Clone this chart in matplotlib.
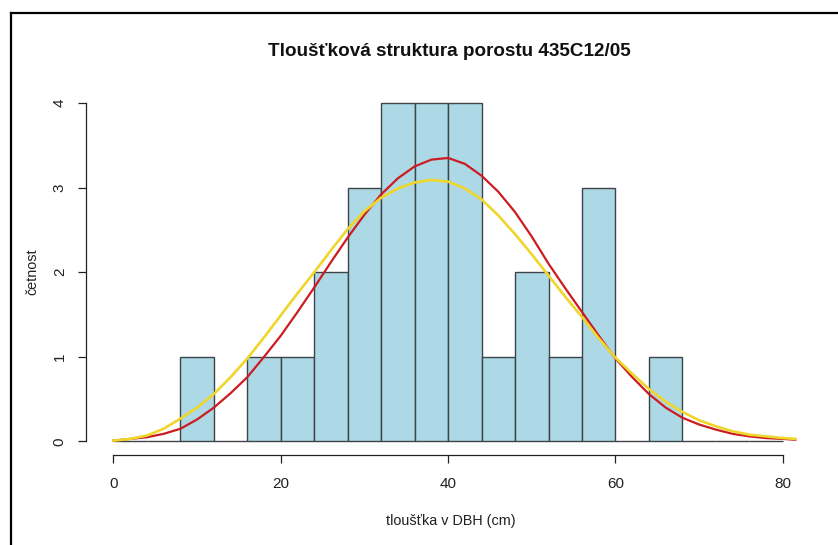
import matplotlib.pyplot as plt
from matplotlib.lines import Line2D

# histogram of DBH, bins 4 cm wide from 0 to 80
bin_edges = [0, 4, 8, 12, 16, 20, 24, 28, 32, 36, 40, 44, 48, 52, 56, 60, 64, 68, 72, 76, 80]
counts = [0, 0, 1, 0, 1, 1, 2, 3, 4, 4, 4, 1, 2, 1, 3, 0, 1, 0, 0, 0]

# fitted curves
curve_x = [0, 2, 4, 6, 8, 10, 12, 14, 16, 18, 20, 22, 24, 26, 28, 30, 32, 34, 36, 38, 40,
           42, 44, 46, 48, 50, 52, 54, 56, 58, 60, 62, 64, 66, 68, 70, 72, 74, 76, 78, 80, 81.5]
red_y = [0.01, 0.03, 0.05, 0.09, 0.15, 0.26, 0.40, 0.57, 0.76, 1.00, 1.25, 1.53, 1.82, 2.12,
         2.41, 2.68, 2.92, 3.11, 3.25, 3.33, 3.35, 3.28, 3.14, 2.95, 2.71, 2.42, 2.10, 1.81,
         1.53, 1.25, 0.98, 0.76, 0.56, 0.40, 0.28, 0.20, 0.14, 0.09, 0.06, 0.04, 0.03, 0.02]
yellow_y = [0.01, 0.03, 0.07, 0.15, 0.27, 0.40, 0.56, 0.76, 0.98, 1.23, 1.49, 1.75, 2.00, 2.26,
            2.51, 2.72, 2.88, 2.99, 3.06, 3.09, 3.07, 2.99, 2.86, 2.67, 2.45, 2.21, 1.96, 1.71,
            1.47, 1.22, 0.99, 0.80, 0.62, 0.47, 0.35, 0.25, 0.18, 0.12, 0.08, 0.06, 0.04, 0.03]

x_ticks = [0, 20, 40, 60, 80]
y_ticks = [0, 1, 2, 3, 4]

plt.rcParams['font.family'] = ['Liberation Sans', 'DejaVu Sans']

fig = plt.figure(figsize=(8.38, 5.45), dpi=100)
W, H = 838, 545
ax = fig.add_axes([86 / W, 1 - 455 / H, (827 - 86) / W, (455 - 89.4) / H])

lefts = bin_edges[:-1]
widths = [b - a for a, b in zip(bin_edges[:-1], bin_edges[1:])]
ax.bar(lefts, counts, width=widths, align='edge', color='#add8e6',
       edgecolor='#3c4448', linewidth=1.0, zorder=2)

ax.plot(curve_x, red_y, color='#cc1c22', linewidth=1.6, zorder=3)
ax.plot(curve_x, yellow_y, color='#f0d62a', linewidth=1.9, zorder=4)

ax.set_xlim(-3.28, 85.28)
ax.set_ylim(-0.16, 4.16)

for s in ['top', 'right']:
    ax.spines[s].set_visible(False)
ax.spines['bottom'].set_bounds(0, 80)
ax.spines['left'].set_bounds(0, 4)
for s in ['bottom', 'left']:
    ax.spines[s].set_linewidth(0.9)
    ax.spines[s].set_color('#222222')

ax.set_xticks(x_ticks)
ax.set_yticks(y_ticks)
ax.set_yticklabels([str(v) for v in y_ticks], rotation=90, va='center')
ax.tick_params(length=5.8, width=0.9, color='#222222', labelsize=11,
               labelcolor='#222222')
ax.tick_params(axis='x', pad=10)
ax.tick_params(axis='y', pad=8)

fig.text(449 / W, 1 - 51 / H, 'Tloušťková struktura porostu 435C12/05',
         ha='center', va='center', fontsize=13.6, fontweight='bold', color='#111111')
fig.text(451 / W, 1 - 521 / H, 'tloušťka v DBH (cm)', ha='center', va='center',
         fontsize=10.4, color='#222222')
fig.text(32 / W, 1 - 272 / H, 'četnost', ha='center', va='center', rotation=90,
         fontsize=10.4, color='#222222')

# picture frame (cut off on right and bottom)
fig.add_artist(Line2D([10.5 / W, 1], [1 - 12.5 / H, 1 - 12.5 / H], color='black',
                      linewidth=1.6, transform=fig.transFigure))
fig.add_artist(Line2D([10.5 / W, 10.5 / W], [0, 1 - 12.5 / H], color='black',
                      linewidth=1.6, transform=fig.transFigure))

fig.savefig('out.png', dpi=100, facecolor='white')
